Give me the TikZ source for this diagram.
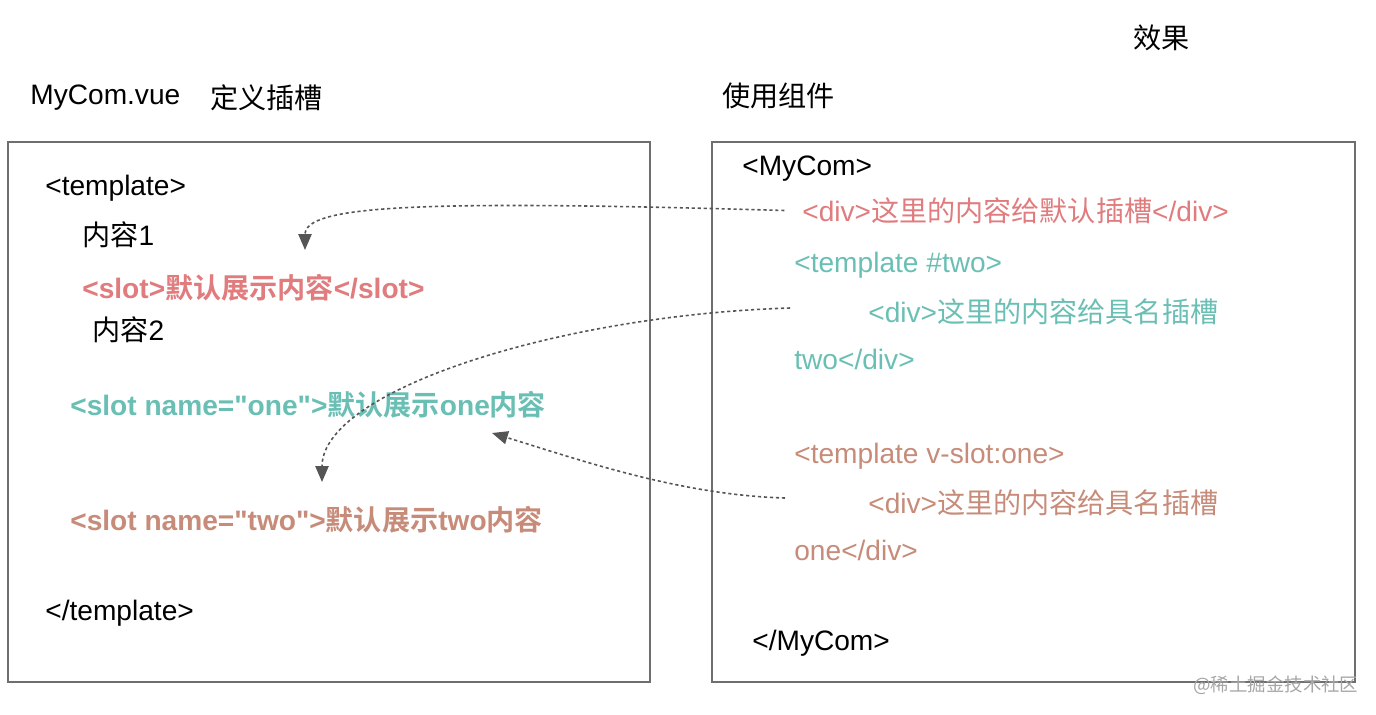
\documentclass[tikz,border=0pt]{standalone}
\usepackage{fontspec}
\setmainfont{Liberation Sans}
\newfontfamily\cjk{Noto Sans CJK SC}[BoldFont={Noto Sans CJK SC Bold}]
\usepackage{xcolor}
\usetikzlibrary{arrows.meta}
\definecolor{slotred}{HTML}{E07B7E}
\definecolor{slotteal}{HTML}{6ABFB4}
\definecolor{slotbrown}{HTML}{C68B79}
\definecolor{boxgray}{HTML}{6E6E6E}
\definecolor{linkgray}{HTML}{555555}
\tikzset{>={Triangle[length=9pt,width=7.5pt]}}

\begin{document}
\begin{tikzpicture}[x=0.02cm,y=-0.02cm,
codeline/.style={anchor=west, inner sep=0pt, yshift=-0.06cm, font=\fontsize{16}{19}\selectfont},
boldline/.style={codeline, font=\fontsize{16}{19}\selectfont\bfseries},
panel/.style={draw=boxgray, line width=1.1pt},
slotlink/.style={->, draw=linkgray, line width=0.9pt, dash pattern=on 1.8pt off 1.6pt},
]
\useasboundingbox (0,0) rectangle (1376,714);
%Boxes
\draw[panel] (8,142) rectangle (650,682);
\draw[panel] (712,142) rectangle (1355,682);
%Titles
\node[codeline](MyComVue) at (30,95){MyCom.vue};
\node[codeline](Define) at (210,95){\cjk 定义插槽};
\node[codeline](Use) at (722,93){\cjk 使用组件};
\node[codeline](Effect) at (1133,35){\cjk 效果};
%Left nodes
\node[codeline](TplOpen) at (45,185){<template>};
\node[codeline](ContentOne) at (82,232){{\cjk 内容}1};
\node[boldline,text=slotred](SlotDefault) at (82,285){<slot>{\cjk 默认展示内容}</slot>};
\node[codeline](ContentTwo) at (92,327){{\cjk 内容}2};
\node[boldline,text=slotteal](SlotOne) at (70,402){<slot name=\textquotedbl one\textquotedbl>{\cjk 默认展示}one{\cjk 内容}};
\node[boldline,text=slotbrown](SlotTwo) at (70,517){<slot name=\textquotedbl two\textquotedbl>{\cjk 默认展示}two{\cjk 内容}};
\node[codeline](TplClose) at (45,610){</template>};
%Right nodes
\node[codeline](MyComOpen) at (742,166){<MyCom>};
\node[codeline,text=slotred](DivDefault) at (802,208){<div>{\cjk 这里的内容给默认插槽}</div>};
\node[codeline,text=slotteal](TplTwo) at (794,262){<template \#two>};
\node[codeline,text=slotteal](DivTwo) at (868,309){<div>{\cjk 这里的内容给具名插槽}};
\node[codeline,text=slotteal](DivTwoEnd) at (794,356){two</div>};
\node[codeline,text=slotbrown](TplOne) at (794,453){<template v-slot:one>};
\node[codeline,text=slotbrown](DivOne) at (868,500){<div>{\cjk 这里的内容给具名插槽}};
\node[codeline,text=slotbrown](DivOneEnd) at (794,547){one</div>};
\node[codeline](MyComClose) at (752,640){</MyCom>};
\node[anchor=west,inner sep=0pt,text=black!35,font=\fontsize{10.5}{12}\selectfont\cjk](Mark) at (1193,685){@稀土掘金技术社区};
%Links
\coordinate (TipDefault) at (305,250);
\coordinate (FromTwo) at (790,308);
\coordinate (TipTwo) at (322,482);
\coordinate (FromOne) at (785,498);
\coordinate (TipOne) at (492,433);
\draw[slotlink,shorten <=10pt] (DivDefault.west) .. controls (420,200) and (305,205) .. (TipDefault);
\draw[slotlink] (FromTwo) .. controls (560,315) and (322,390) .. (TipTwo);
\draw[slotlink] (FromOne) .. controls (680,495) and (580,460) .. (TipOne);
\end{tikzpicture}
\end{document}
